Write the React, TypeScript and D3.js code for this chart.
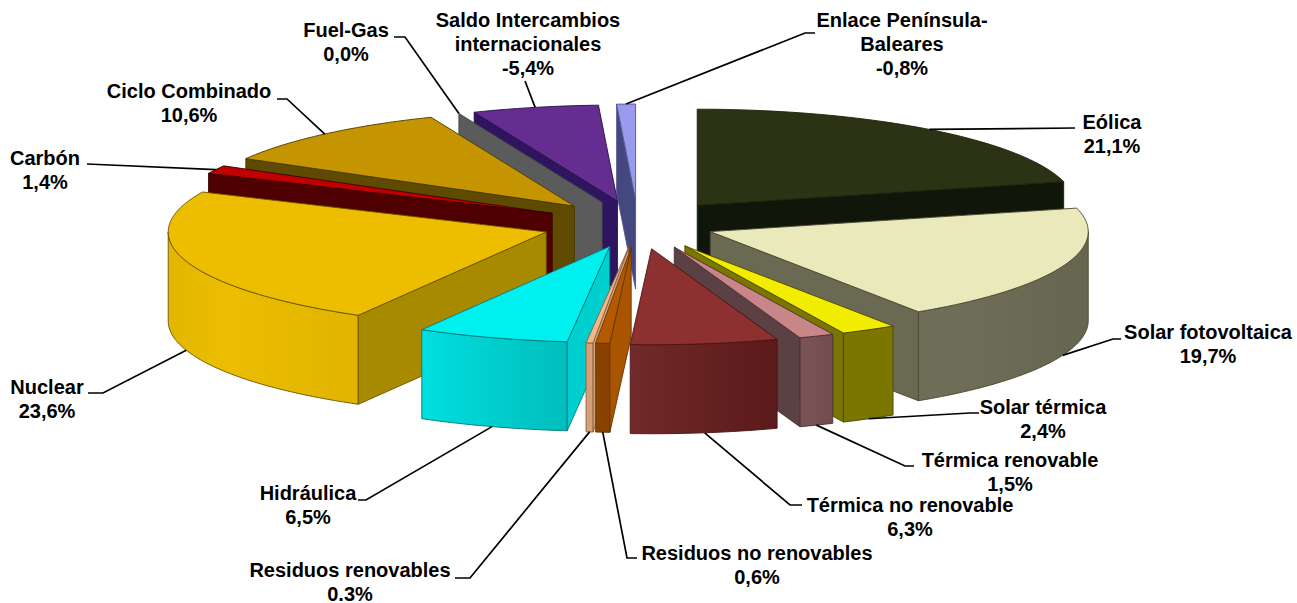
import React from "react";
import * as d3 from "d3";

const categories = ["Eólica","Solar fotovoltaica","Solar térmica","Térmica renovable","Térmica no renovable","Residuos no renovables","Residuos renovables","Hidráulica","Nuclear","Carbón","Ciclo Combinado","Fuel-Gas","Saldo Intercambios internacionales","Enlace Península-Baleares"];
const shares = [21.1,19.7,2.4,1.5,6.3,0.6,0.3,6.5,23.6,1.4,10.6,0,5.4,0.8];
const percentLabels = ["21,1%","19,7%","2,4%","1,5%","6,3%","0,6%","0.3%","6,5%","23,6%","1,4%","10,6%","0,0%","-5,4%","-0,8%"];
const explosions = [0.255,0.205,0.255,0.255,0.255,0.24,0.24,0.24,0.255,0.255,0.255,0.25,0.25,0.255];
const topColors = ["#2B3314","#EAE9BC","#F2EC00","#C98688","#8C3030","#B35A00","#F0B888","#00F0F0","#EDBE00","#C00000","#C49500","#5B5B5B","#662D91","#9999EE"];
const wallColors = ["#11160A","#6A6A53","#7A7600","#5B4044","#5C1A1A","#A85400","#D4A078","#00CFCF","#A88A00","#4F0000","#5E4A00","#5B5B5B","#2F1560","#45487F"];
const rimFrom = ["#11160A","#6E6E58","#7A7600","#785255","#722A2A","#8A4200","#D4A078","#00E0E0","#E2B600","#4F0000","#5E4A00","#5B5B5B","#2F1560","#45487F"];
const rimMid = ["#11160A","#6E6E58","#7A7600","#785255","#6A2424","#8A4200","#D4A078","#00D4D4","#EBBE00","#4F0000","#5E4A00","#5B5B5B","#2F1560","#45487F"];
const rimTo = ["#11160A","#666650","#7A7600","#724C4F","#5C1A1A","#8A4200","#D4A078","#00BEBE","#E0B400","#4F0000","#5E4A00","#5B5B5B","#2F1560","#45487F"];
const edgeColors = ["#1C220C","#4A4A30","#4A4700","#4A3034","#4A1414","#6A3300","#8A6040","#007A7A","#6A5300","#3A0000","#4A3A00","#444444","#241048","#555590"];

const labelLines = [["Eólica"],["Solar fotovoltaica"],["Solar térmica"],["Térmica renovable"],["Térmica no renovable"],["Residuos no renovables"],["Residuos renovables"],["Hidráulica"],["Nuclear"],["Carbón"],["Ciclo Combinado"],["Fuel-Gas"],["Saldo Intercambios","internacionales"],["Enlace Península-","Baleares"]];
const labelAnchors = [[1112,129],[1208,339],[1043,414],[1010,467],[910,512],[757,560],[350,577],[308,500],[47,394],[45,165],[189,98],[346,37],[528,27],[902,27]];
const leaderRoutes = [[[1075,128]],[[1113,339],[1121,339]],[[970,413],[979,413]],[[905,466],[914,466]],[[790,505],[802,505]],[[627,558],[637,558]],[[470,578],[455,578]],[[366,500],[358,500]],[[103,393],[88,393]],[[87,164]],[[287,99],[277,99]],[[405,37],[394,37]],[[525,81]],[[805,33],[815,33]]];

const W = 1297, H = 603;
const CX = 638, CY = 224.5, RX = 378, RY = 96, DEPTH = 89;
const FONT = "'Liberation Sans', Arial, sans-serif";
const LINE = 24;

const xs = d3.scaleLinear().domain([-1, 1]).range([-RX, RX]);
const ys = d3.scaleLinear().domain([-1, 1]).range([RY, -RY]);

const arcs = d3.pie<number>().sort(null).value(d => d)(shares);
type P = [number, number];
const slices = arcs.map((a, i) => {
  const mid = (a.startAngle + a.endAngle) / 2;
  const e = explosions[i];
  const apex: P = [CX + e * xs(Math.sin(mid)), CY + e * ys(Math.cos(mid))];
  const rim = (t: number): P => [apex[0] + xs(Math.sin(t)), apex[1] + ys(Math.cos(t))];
  return { i, mid, apex, rim, a0: a.startAngle, a1: a.endAngle };
});
const order = [...slices].sort((p, q) => Math.cos(q.mid) - Math.cos(p.mid));
const line = d3.line<P>();
const down = (p: P): P => [p[0], p[1] + DEPTH];
const sampleArc = (rim: (t: number) => P, t0: number, t1: number): P[] => {
  const n = Math.max(2, Math.ceil((t1 - t0) * 40));
  return d3.range(n + 1).map(k => rim(t0 + (t1 - t0) * k / n));
};

function Slice({ s }: { s: (typeof slices)[number] }) {
  const { i, apex, rim, a0, a1 } = s;
  const PI = Math.PI;
  const edge = edgeColors[i];
  const common = { stroke: edge, strokeWidth: 0.9, strokeLinejoin: "round" as const };
  const r0 = Math.max(a0, PI / 2), r1 = Math.min(a1, 3 * PI / 2);
  const hasRim = r1 > r0;
  const rimTop = hasRim ? sampleArc(rim, r0, r1) : [];
  const rimPath = hasRim ? line([...rimTop, ...rimTop.map(down).reverse()]) + "Z" : "";
  const wall = (t: number) => {
    const p = rim(t);
    return line([apex, p, down(p), down(apex)]) + "Z";
  };
  const showStart = Math.sin(a0) < 0 || a0 >= PI;
  const showEnd = Math.sin(a1) > 0 && a1 < PI;
  const top = line([apex, ...sampleArc(rim, a0, a1)]) + "Z";
  return (
    <g>
      {hasRim && <path d={rimPath} fill={`url(#rim${i})`} {...common} />}
      {showStart && <path d={wall(a0)} fill={wallColors[i]} {...common} />}
      {showEnd && <path d={wall(a1)} fill={wallColors[i]} {...common} />}
      {a1 > a0 && <path d={top} fill={topColors[i]} {...common} />}
    </g>
  );
}

function leaderEnd(s: (typeof slices)[number]): P {
  const p = s.rim(s.mid);
  return Math.cos(s.mid) > 0 ? p : down(p);
}

export default function App() {
  return (
    <svg width={W} height={H} style={{ position: "absolute", left: 0, top: 0, background: "#fff" }}>
      <defs>
        {slices.map(s => (
          <linearGradient key={s.i} id={`rim${s.i}`} x1="0" x2="1" y1="0" y2="0">
            <stop offset="0" stopColor={rimFrom[s.i]} />
            <stop offset="0.3" stopColor={rimMid[s.i]} />
            <stop offset="1" stopColor={rimTo[s.i]} />
          </linearGradient>
        ))}
      </defs>
      {order.map(s => <Slice key={s.i} s={s} />)}
      {slices.map(s => (
        <path key={s.i} d={line([leaderEnd(s), ...(leaderRoutes[s.i] as P[])]) ?? ""} fill="none" stroke="#000" strokeWidth={1.7} />
      ))}
      {categories.map((c, i) => {
        const [x, y] = labelAnchors[i];
        const rows = [...labelLines[i], percentLabels[i]];
        return (
          <text key={c} x={x} y={y} textAnchor="middle" fontFamily={FONT} fontWeight="bold" fontSize={20} fill="#000">
            {rows.map((r, k) => <tspan key={k} x={x} y={y + k * LINE}>{r}</tspan>)}
          </text>
        );
      })}
    </svg>
  );
}
